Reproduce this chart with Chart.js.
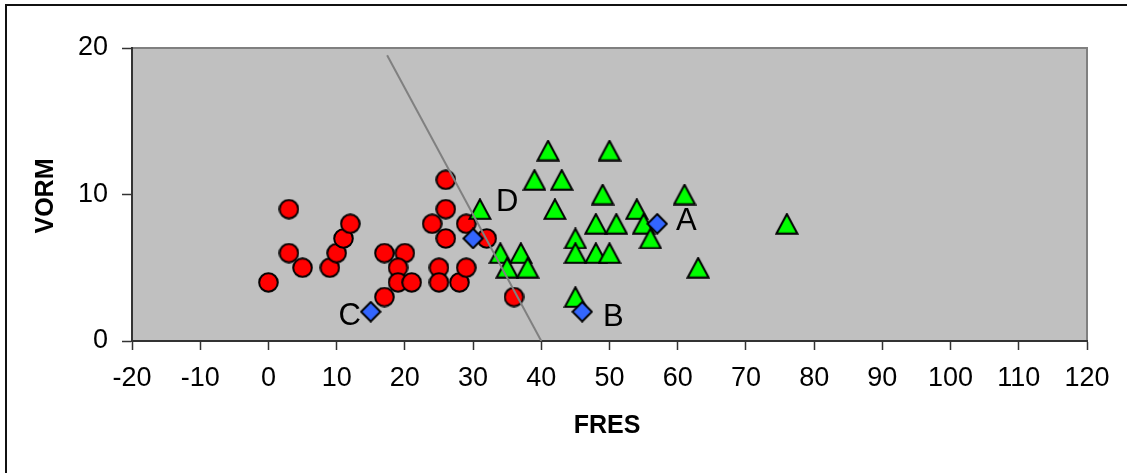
<!DOCTYPE html>
<html>
<head>
<meta charset="utf-8">
<script src="https://cdn.jsdelivr.net/npm/chart.js@4/dist/chart.umd.min.js"></script>
<style>
  body { margin: 0; background: #fff; }
  #wrap { width: 1127px; height: 473px; position: relative; }
</style>
</head>
<body>
<div id="wrap"><canvas id="mainPlot"></canvas></div>
<script>
// data
const circleX = [0, 3, 3, 5, 9, 10, 11, 12, 17, 17, 20, 19, 19, 21, 25, 25, 28, 29, 26, 26, 24, 26, 29, 32, 36];
const circleY = [4, 9, 6, 5, 5, 6, 7, 8, 6, 3, 6, 5, 4, 4, 5, 4, 4, 5, 11, 9, 8, 7, 8, 7, 3];
const triangleX = [41, 50, 39, 43, 42, 31, 49, 54, 48, 51, 55, 56, 45, 45, 48, 50, 34, 37, 35, 38, 45, 61, 63, 76];
const triangleY = [13, 13, 11, 11, 9, 9, 10, 9, 8, 8, 8, 7, 7, 6, 6, 6, 6, 6, 5, 5, 3, 10, 5, 8];
const diamondX = [57, 46, 15, 30];
const diamondY = [8, 2, 2, 7];
const diamondLabels = ["A", "B", "C", "D"];
const lineX = [17.4, 40];
const lineY = [19.5, 0];
const xTicks = [-20, -10, 0, 10, 20, 30, 40, 50, 60, 70, 80, 90, 100, 110, 120];

const fontFamily = "'Liberation Sans', Arial, sans-serif";

function toPoints(xs, ys) {
  return xs.map((x, i) => ({ x: x, y: ys[i] }));
}

// marker images, so the shapes sit centred like the original
function makeMarker(kind) {
  const c = document.createElement("canvas");
  const ctx = c.getContext("2d");
  if (kind === "circle") {
    c.width = 21; c.height = 21;
    ctx.beginPath();
    ctx.arc(10.5, 10.5, 9.3, 0, Math.PI * 2);
    ctx.fillStyle = "#ff0000";
  } else if (kind === "triangle") {
    c.width = 24; c.height = 22;
    ctx.beginPath();
    ctx.moveTo(12, 1.2);
    ctx.lineTo(22.5, 20.8);
    ctx.lineTo(1.5, 20.8);
    ctx.closePath();
    ctx.fillStyle = "#00ff00";
  } else {
    c.width = 22; c.height = 22;
    ctx.beginPath();
    ctx.moveTo(11, 1.3);
    ctx.lineTo(20.7, 11);
    ctx.lineTo(11, 20.7);
    ctx.lineTo(1.3, 11);
    ctx.closePath();
    ctx.fillStyle = "#3366ff";
  }
  ctx.fill();
  ctx.lineWidth = 2;
  ctx.strokeStyle = "#000";
  ctx.stroke();
  return c;
}

// gray plot area and the outer frame
const backgroundPlugin = {
  id: "plotBackground",
  beforeDraw(chart) {
    const ctx = chart.ctx;
    const area = chart.chartArea;
    ctx.save();
    ctx.fillStyle = "#c0c0c0";
    ctx.fillRect(area.left, area.top, area.right - area.left, area.bottom - area.top);
    ctx.strokeStyle = "#808080";
    ctx.lineWidth = 2;
    ctx.strokeRect(area.left, area.top, area.right - area.left, area.bottom - area.top);

    ctx.strokeStyle = "#111";
    ctx.lineWidth = 2;
    ctx.beginPath();
    ctx.moveTo(6, chart.height);
    ctx.lineTo(6, 5);
    ctx.lineTo(chart.width, 5);
    ctx.stroke();
    ctx.restore();
  }
};

// axis titles and the A-D point labels
const textPlugin = {
  id: "textLabels",
  afterDraw(chart) {
    const ctx = chart.ctx;
    ctx.save();
    ctx.fillStyle = "#000";
    ctx.font = "bold 25px " + fontFamily;
    ctx.textAlign = "center";
    ctx.textBaseline = "middle";
    ctx.fillText("FRES", 607, 426);
    ctx.translate(46, 196);
    ctx.rotate(-Math.PI / 2);
    ctx.fillText("VORM", 0, 0);
    ctx.restore();

    const offsets = [[29, -5], [31, 3], [-21, 2], [34, -39]];
    const meta = chart.getDatasetMeta(1);
    ctx.save();
    ctx.fillStyle = "#000";
    ctx.font = "31px " + fontFamily;
    ctx.textAlign = "center";
    ctx.textBaseline = "alphabetic";
    meta.data.forEach((pt, i) => {
      ctx.fillText(diamondLabels[i], pt.x + offsets[i][0], pt.y + offsets[i][1] + 31 * 0.358);
    });
    ctx.restore();
  }
};

const mainChart = new Chart(document.getElementById("mainPlot"), {
  type: "scatter",
  data: {
    datasets: [
      {
        label: "line",
        type: "line",
        data: toPoints(lineX, lineY),
        borderColor: "#808080",
        borderWidth: 2,
        pointRadius: 0,
        showLine: true,
        fill: false,
      },
      {
        label: "diamonds",
        data: toPoints(diamondX, diamondY),
        pointStyle: makeMarker("diamond"),
      },
      {
        label: "triangles",
        data: toPoints(triangleX, triangleY),
        pointStyle: makeMarker("triangle"),
      },
      {
        label: "circles",
        data: toPoints(circleX, circleY),
        pointStyle: makeMarker("circle"),
      },
    ],
  },
  options: {
    responsive: true,
    maintainAspectRatio: false,
    animation: false,
    layout: {
      padding: { top: 48, right: 40, left: 0, bottom: 0 },
    },
    scales: {
      x: {
        type: "linear",
        min: -20,
        max: 120,
        afterFit: (scale) => { scale.height = 132; },
        afterBuildTicks: (scale) => { scale.ticks = xTicks.map(v => ({ value: v })); },
        border: { color: "#333", width: 2 },
        grid: {
          drawOnChartArea: false,
          tickLength: 9,
          tickColor: "#333",
          tickWidth: 1.5,
        },
        ticks: {
          color: "#000",
          padding: 12,
          maxRotation: 0,
          autoSkip: false,
          font: { family: fontFamily, size: 27 },
        },
      },
      y: {
        min: 0,
        max: 20,
        afterFit: (scale) => { scale.width = 132; },
        border: { color: "#333", width: 2 },
        grid: {
          drawOnChartArea: false,
          tickLength: 10,
          tickColor: "#333",
          tickWidth: 1.5,
        },
        ticks: {
          stepSize: 10,
          color: "#000",
          padding: 14,
          font: { family: fontFamily, size: 27 },
        },
      },
    },
    plugins: {
      legend: { display: false },
      tooltip: { enabled: false },
    },
  },
  plugins: [backgroundPlugin, textPlugin],
});
</script>
</body>
</html>
